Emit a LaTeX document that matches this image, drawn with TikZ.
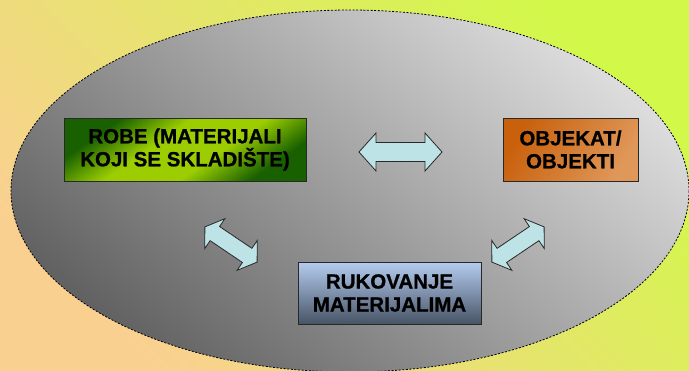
\documentclass[tikz,border=0pt]{standalone}
\usepackage{fontspec}
\setmainfont[BoldFeatures={FakeBold=0.8}]{Liberation Sans}
\usetikzlibrary{calc}
\definecolor{bgpeach}{RGB}{250,208,145}
\definecolor{bglime}{RGB}{210,248,74}
\definecolor{elllight}{RGB}{220,220,220}
\definecolor{elldark}{RGB}{98,98,98}
\definecolor{gdark}{RGB}{24,96,0}
\definecolor{glime}{RGB}{155,205,0}
\definecolor{odark}{RGB}{200,96,12}
\definecolor{olight}{RGB}{224,152,90}
\definecolor{btop}{RGB}{180,204,240}
\definecolor{bbot}{RGB}{72,84,102}
\definecolor{arrfill}{RGB}{190,227,230}
\definecolor{edge}{RGB}{40,40,40}
\pgfdeclareverticalshading{greenband}{100bp}{color(0bp)=(gdark); color(27bp)=(gdark); color(42bp)=(glime); color(58bp)=(glime); color(73bp)=(gdark); color(100bp)=(gdark)}
\tikzset{
  box/.style={draw=edge, line width=0.9pt, minimum height=63, inner sep=0pt, align=center,
    font=\bfseries\fontsize{20.5}{23}\selectfont, text=black},
  arrowstyle/.style={draw=edge, line width=0.8pt, fill=arrfill, line join=miter},
  pics/dblarr/.style n args={4}{code={
    \draw[arrowstyle] (-#1,0) -- (-#1+#2,#3) -- (-#1+#2,#4) -- (#1-#2,#4) -- (#1-#2,#3) -- (#1,0)
      -- (#1-#2,-#3) -- (#1-#2,-#4) -- (-#1+#2,-#4) -- (-#1+#2,-#3) -- cycle;
  }}
}
\begin{document}
\begin{tikzpicture}[x=1pt,y=-1pt]
\useasboundingbox (0,0) rectangle (689,370);
\clip (0,0) rectangle (689,370);
% background
\shade[top color=bglime, bottom color=bgpeach, shading angle=-45] (0,0) rectangle (689,370);
% ellipse
\shade[top color=elllight, bottom color=elldark, shading angle=-40] (350,191) ellipse [x radius=339, y radius=181];
\draw[black, line width=0.8pt, dash pattern=on 2pt off 1.6pt] (350,191) ellipse [x radius=339, y radius=181];
% boxes
\node[box, minimum width=242, shading=greenband, shading angle=35] (robe) at (185,149.5) {ROBE (MATERIJALI\\KOJI SE SKLADIŠTE)};
\node[box, minimum width=135, left color=odark, right color=olight, shading angle=60] (obj) at (570.5,149.5) {OBJEKAT/\\OBJEKTI};
\node[box, minimum width=183, minimum height=62, top color=btop, bottom color=bbot] (ruk) at (389.5,293) {RUKOVANJE\\MATERIJALIMA};
% arrows
\coordinate (a1) at (400.5,152);
\coordinate (a2) at (231,244.5);
\coordinate (a3) at (518,244.5);
\pic at (a1) {dblarr={41.5}{17}{19}{9.5}};
\pic[rotate=-34] at (a2) {dblarr={31.5}{12}{18}{8.5}};
\pic[rotate=34] at (a3) {dblarr={31.5}{12}{18}{8.5}};
\end{tikzpicture}
\end{document}
